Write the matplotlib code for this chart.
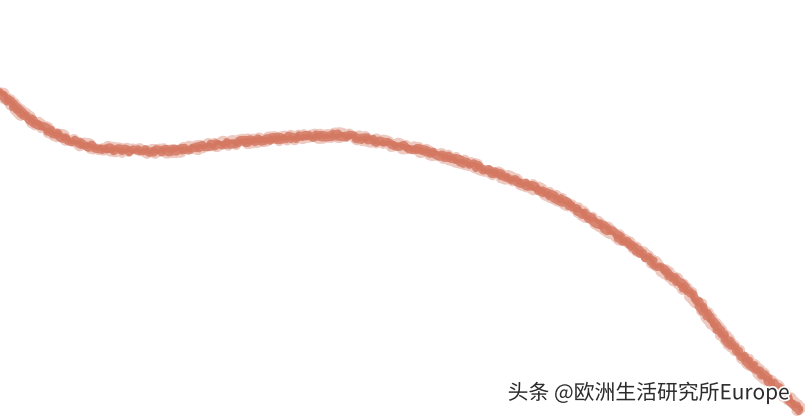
import matplotlib.pyplot as plt
import matplotlib.patheffects as pe

plt.rcParams['font.family'] = ['Noto Sans CJK SC', 'DejaVu Sans']

xs = [0, 20, 40, 60, 83, 100, 117, 140, 160, 180, 200, 220, 240, 260, 283, 300,
      320, 340, 367, 400, 420, 440, 473, 500, 533, 567, 593, 613, 640, 663, 680,
      697, 713, 733, 757, 780, 800]
ys = [92, 112, 126, 136, 145, 148, 150, 151, 151, 150, 147, 144, 142, 140, 138, 137,
      136, 135, 139, 146, 150, 155, 165, 175, 187, 203, 220, 233, 252, 270, 283,
      301, 323, 347, 370, 390, 410]
watermark = "头条 @欧洲生活研究所Europe"

fig = plt.figure(figsize=(8.05, 4.16), dpi=100)
ax = fig.add_axes([0, 0, 1, 1])
ax.set_xlim(0, 805)
ax.set_ylim(416, 0)
ax.axis('off')

col = '#d47862'
# layered sketchy strokes to mimic the crayon texture
l1, = ax.plot(xs, ys, color=col, lw=7.0, alpha=0.4, solid_capstyle='round')
l1.set_sketch_params(scale=3.0, length=5, randomness=25)
l2, = ax.plot(xs, ys, color=col, lw=5.5, alpha=0.85, solid_capstyle='round')
l2.set_sketch_params(scale=2.0, length=4, randomness=30)
l3, = ax.plot(xs, ys, color=col, lw=3.0, alpha=0.95)
l3.set_sketch_params(scale=1.5, length=3, randomness=40)

ax.text(790, 393, watermark, ha='right', va='center', fontsize=15,
        color='#2b2b2b',
        path_effects=[pe.withStroke(linewidth=2.5, foreground='white')])

fig.savefig('out.png', dpi=100)
